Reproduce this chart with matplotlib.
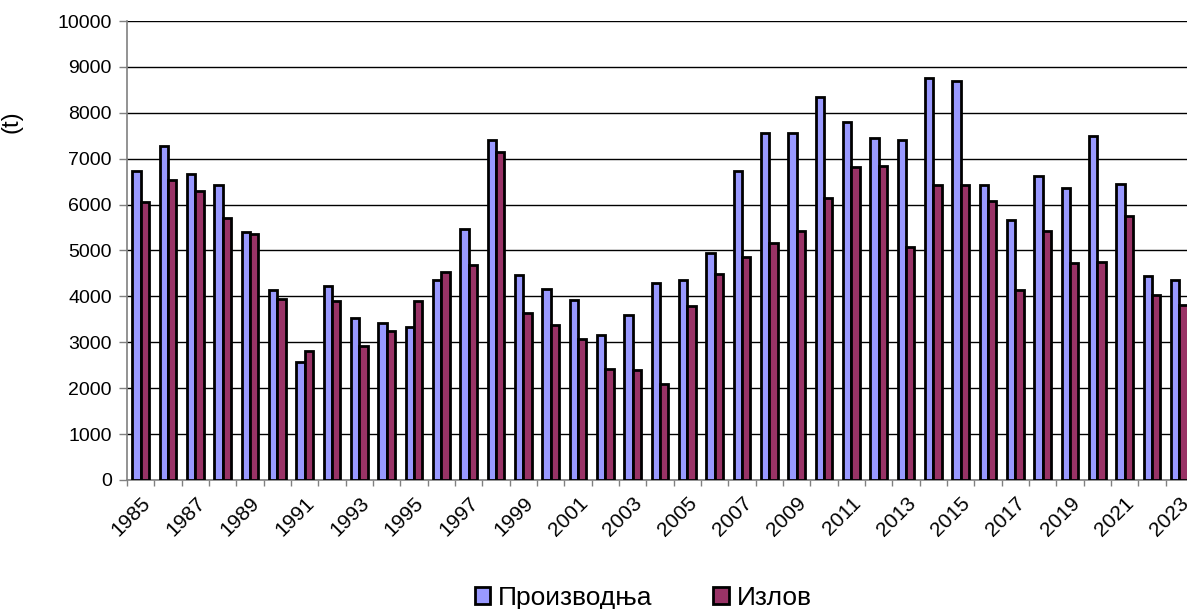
import matplotlib
matplotlib.use('Agg')
import matplotlib.pyplot as plt
import numpy as np

plt.rcParams['font.family'] = ['Liberation Sans', 'DejaVu Sans']

years = list(range(1985, 2024))
proizvodnja = [6730, 7270, 6670, 6430, 5400, 4150, 2560, 4230, 3520, 3420,
               3330, 4360, 5470, 7400, 4460, 4165, 3925, 3160, 3605, 4285,
               4360, 4945, 6730, 7550, 7550, 8340, 7810, 7450, 7400, 8760,
               8690, 6430, 5660, 6630, 6365, 7485, 6450, 4445, 4355]
izlov = [6065, 6535, 6300, 5700, 5370, 3940, 2810, 3895, 2920, 3255,
         3895, 4525, 4680, 7150, 3640, 3370, 3075, 2410, 2390, 2100,
         3800, 4480, 4850, 5155, 5420, 6145, 6825, 6845, 5075, 6425,
         6425, 6075, 4145, 5415, 4725, 4760, 5750, 4035, 3810]
series_names = ['Производња', 'Излов']
colors = ['#9999FF', '#993366']

fig = plt.figure(figsize=(11.87, 6.09), dpi=100)
ax = fig.add_axes([127 / 1187, 129 / 609, 1066 / 1187, 459 / 609])

x = np.arange(len(years))
w = 0.3
ax.bar(x - w / 2, proizvodnja, w, color=colors[0], edgecolor='black',
       linewidth=2.0, label=series_names[0], zorder=3)
ax.bar(x + w / 2, izlov, w, color=colors[1], edgecolor='black',
       linewidth=2.0, label=series_names[1], zorder=3)

ax.set_xlim(-0.5, len(years) - 0.5)
ax.set_ylim(0, 10000)
ax.set_yticks(np.arange(0, 10001, 1000))
ax.yaxis.grid(True, color='black', linewidth=1.0, zorder=0)

ax.set_xticks(x[::2])
ax.set_xticklabels([str(y) for y in years[::2]], rotation=45, ha='right',
                   rotation_mode='anchor')
ax.set_xticks(np.arange(-0.5, len(years), 1), minor=True)
ax.tick_params(axis='x', which='major', length=0, labelsize=15, pad=10)
ax.tick_params(axis='x', which='minor', length=4, color='#808080', width=1)
ax.tick_params(axis='y', length=6, color='#808080', width=1, labelsize=14, pad=5)

for s in ['top', 'right']:
    ax.spines[s].set_visible(False)
for s in ['left', 'bottom']:
    ax.spines[s].set_color('#808080')
    ax.spines[s].set_linewidth(1.2)

ax.set_ylabel('(t)', fontsize=17)
ax.yaxis.set_label_coords(-0.098, 0.78)

fig.legend(loc='lower center', bbox_to_anchor=(0.542, -0.04), ncol=2,
           frameon=False, fontsize=19, handlelength=0.6, handleheight=0.6,
           handletextpad=0.3, columnspacing=2.3)

fig.savefig('out.png', dpi=100)
